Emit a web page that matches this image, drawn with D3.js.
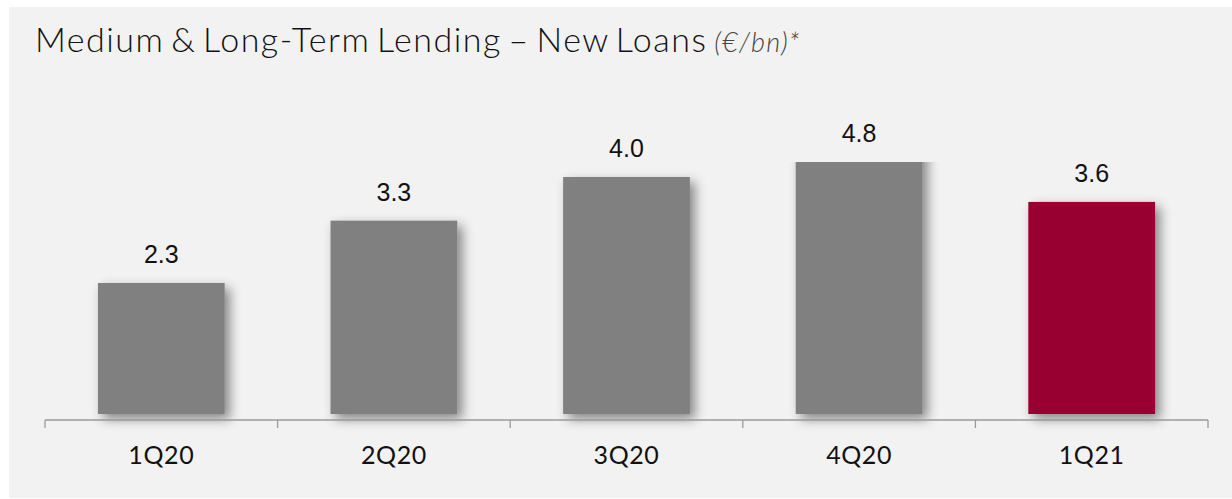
<script src="https://d3js.org/d3.v7.min.js"></script>
<style>
  body { margin: 0; background: #fff; }
</style>
<div id="chart"></div>
<script>
  // data
  var quarters = ["1Q20", "2Q20", "3Q20", "4Q20", "1Q21"];
  var newLoans = [2.3, 3.3, 4.0, 4.8, 3.6];
  var valueLabels = ["2.3", "3.3", "4.0", "4.8", "3.6"];
  var highlight = "1Q21";

  var W = 1232, H = 499;

  var svg = d3.select("#chart")
    .append("svg")
      .attr("width", W)
      .attr("height", H);

  // panel
  svg.append("rect")
    .attr("x", 9).attr("y", 7)
    .attr("width", W - 9).attr("height", H - 8)
    .attr("fill", "#f2f2f2");

  // title
  var title = svg.append("text")
    .attr("x", 35).attr("y", 52)
    .style("font-family", "Lato, 'Open Sans', sans-serif")
    .style("font-size", "34px")
    .style("font-weight", 300)
    .style("letter-spacing", "1.5px")
    .style("word-spacing", "-4px")
    .style("fill", "#111");
  title.append("tspan").text("Medium & Long-Term Lending \u2013 New Loans ");
  title.append("tspan")
    .style("font-style", "italic")
    .style("font-size", "27px")
    .style("letter-spacing", "1.2px")
    .style("fill", "#444")
    .text("(\u20ac/bn)*");

  var defs = svg.append("defs");
  var f = defs.append("filter").attr("id", "shadow")
    .attr("x", "-30%").attr("y", "-30%").attr("width", "160%").attr("height", "160%");
  f.append("feDropShadow")
    .attr("dx", 5).attr("dy", 5)
    .attr("stdDeviation", 6)
    .attr("flood-color", "#000")
    .attr("flood-opacity", 0.45);

  // plot area clip (the tallest bar runs over the top)
  defs.append("clipPath").attr("id", "plotclip")
    .append("rect")
      .attr("x", 0).attr("y", 162)
      .attr("width", W).attr("height", 278);

  // scales
  var x = d3.scaleBand()
    .domain(quarters)
    .range([45, 1208])
    .padding(0);

  var y = d3.scaleLinear()
    .domain([0, 4.8])
    .range([426.4, 127.1]);

  var axisY = 420, barBottom = 414;
  var barW = x.bandwidth() * 0.545;

  var data = quarters.map(function(q, i) {
    return { q: q, v: newLoans[i], label: valueLabels[i] };
  });

  // bars
  svg.append("g")
    .attr("clip-path", "url(#plotclip)")
    .selectAll("rect")
    .data(data)
    .enter()
    .append("rect")
      .attr("x", function(d) { return x(d.q) + (x.bandwidth() - barW) / 2; })
      .attr("y", function(d) { return y(d.v); })
      .attr("width", barW)
      .attr("height", function(d) { return barBottom - y(d.v); })
      .attr("fill", function(d) { return d.q === highlight ? "#990030" : "#808080"; })
      .attr("filter", "url(#shadow)");

  // value labels
  svg.append("g")
    .selectAll("text")
    .data(data)
    .enter()
    .append("text")
      .attr("x", function(d) { return x(d.q) + x.bandwidth() / 2; })
      .attr("y", function(d) { return Math.max(y(d.v), 162) - 20; })
      .attr("text-anchor", "middle")
      .style("font-family", "'Liberation Sans', Arial, sans-serif")
      .style("font-size", "25px")
      .style("fill", "#111")
      .text(function(d) { return d.label; });

  // axis
  var xAxis = d3.axisBottom(x).tickSize(0).tickPadding(26);
  var ax = svg.append("g")
    .attr("transform", "translate(0," + axisY + ")")
    .call(xAxis);
  ax.select(".domain").remove();
  ax.selectAll("text")
    .style("font-family", "Lato, 'Open Sans', sans-serif")
    .style("font-size", "25px")
    .style("letter-spacing", "0.6px")
    .style("fill", "#111");

  ax.append("line")
    .attr("x1", 45).attr("x2", 1208)
    .attr("stroke", "#9a9a9a").attr("stroke-width", 1.3);
  ax.selectAll(".edge")
    .data(quarters.map(function(q) { return x(q); }).concat([x(quarters[quarters.length - 1]) + x.bandwidth()]))
    .enter()
    .append("line")
      .attr("class", "edge")
      .attr("x1", function(d) { return d; }).attr("x2", function(d) { return d; })
      .attr("y1", 0).attr("y2", 8)
      .attr("stroke", "#9a9a9a").attr("stroke-width", 1.3);
</script>
